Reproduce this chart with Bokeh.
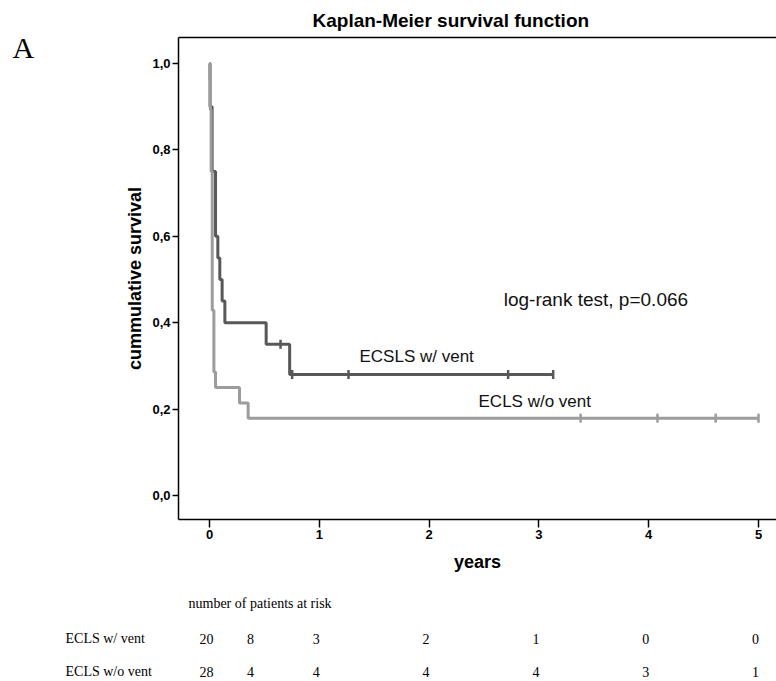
from bokeh.plotting import figure
from bokeh.layouts import column, row
from bokeh.models import Range1d, FixedTicker, LinearAxis, Label, LabelSet, ColumnDataSource
from bokeh.embed import file_html
from bokeh.resources import INLINE
import numpy as np

# ---------------- data ----------------
title_text = "Kaplan-Meier survival function"
panel_letter = "A"
x_label = "years"
y_label = "cummulative survival"
stat_text = "log-rank test, p=0.066"

# ECLS with ventilation (n=20)
vent_name = "ECSLS w/ vent"
vent_times = [0.0, 0.005, 0.024, 0.055, 0.076, 0.094, 0.115, 0.14, 0.516, 0.73]
vent_surv = [1.0, 0.90, 0.75, 0.60, 0.55, 0.50, 0.45, 0.40, 0.35, 0.28]
vent_end = 3.13
vent_censor_t = [0.647, 0.753, 1.266, 2.72, 3.13]
vent_censor_s = [0.35, 0.28, 0.28, 0.28, 0.28]

# ECLS without ventilation (n=28)
novent_name = "ECLS w/o vent"
novent_times = [0.0, 0.003, 0.008, 0.015, 0.025, 0.04, 0.055, 0.273, 0.352]
novent_surv = [1.0, 0.964, 0.893, 0.75, 0.429, 0.286, 0.25, 0.214, 0.179]
novent_end = 5.0
novent_censor_t = [3.38, 4.08, 4.61, 5.0]
novent_censor_s = [0.179, 0.179, 0.179, 0.179]

x_ticks = [0, 1, 2, 3, 4, 5]
y_ticks = [0.0, 0.2, 0.4, 0.6, 0.8, 1.0]
y_tick_labels = ["0,0", "0,2", "0,4", "0,6", "0,8", "1,0"]

risk_header = "number of patients at risk"
risk_row_names = ["ECLS w/ vent", "ECLS w/o vent"]
risk_times = [0, 0.4, 1, 2, 3, 4, 5]
risk_vent = [20, 8, 3, 2, 1, 0, 0]
risk_novent = [28, 4, 4, 4, 4, 3, 1]

# ---------------- styling ----------------
DARK = "#585858"
LIGHT = "#9c9c9c"
SANS = "Liberation Sans"
SERIF = "Liberation Serif"
X0, X1 = -0.2823, 5.1639      # main frame x range (years)
PX_PER_YEAR = 109.8


def blank(fig):
    fig.outline_line_color = None
    fig.background_fill_color = "white"
    fig.border_fill_color = "white"
    fig.grid.visible = False


# ---------------- panel letter ----------------
pa = figure(width=40, height=580, output_backend="svg", toolbar_location=None,
            x_axis_location=None, y_axis_location=None, min_border=0,
            x_range=Range1d(0, 1), y_range=Range1d(0, 1))
blank(pa)
pa.add_layout(Label(x=12, y=472, x_units="screen", y_units="screen", text=panel_letter,
                    text_font=SERIF, text_font_size="30px", text_baseline="middle",
                    text_color="black"))

# ---------------- main KM plot ----------------
p = figure(width=736, height=580, output_backend="svg", toolbar_location=None,
           x_range=Range1d(X0, X1), y_range=Range1d(-0.0556, 1.0602),
           min_border_left=138, min_border_right=0, min_border_top=37,
           min_border_bottom=61, title=title_text)
blank(p)

p.title.text_font = SANS
p.title.text_font_size = "19px"
p.title.text_font_style = "bold"
p.title.text_color = "black"
p.title.align = "left"
p.title.offset = 134
p.title.standoff = 13

xa = p.xaxis[0]
xa.ticker = FixedTicker(ticks=x_ticks)
ya = p.yaxis[0]
ya.ticker = FixedTicker(ticks=y_ticks)
ya.major_label_overrides = {t: l for t, l in zip(y_ticks, y_tick_labels)}
for ax in (xa, ya):
    ax.minor_tick_line_color = None
    ax.major_tick_in = 0
    ax.axis_line_width = 1.5
    ax.major_tick_line_width = 1.5
    ax.axis_line_color = "black"
    ax.major_tick_line_color = "black"
    ax.major_label_text_font = SANS
    ax.major_label_text_font_style = "bold"
    ax.major_label_text_font_size = "13px"
    ax.major_label_text_color = "black"
    ax.axis_label_text_font = SANS
    ax.axis_label_text_font_style = "bold"
    ax.axis_label_text_font_size = "18px"
    ax.axis_label_text_color = "black"
xa.major_tick_out = 8
xa.major_label_standoff = 2
xa.axis_label = x_label
xa.axis_label_standoff = 10
ya.major_tick_out = 6
ya.major_label_standoff = 2
ya.axis_label = y_label
ya.axis_label_standoff = 4

top = LinearAxis(ticker=FixedTicker(ticks=[]), major_label_text_font_size="0px",
                 major_tick_out=0, major_tick_in=0, major_label_standoff=0,
                 minor_tick_line_color=None, axis_line_width=1.5, axis_line_color="black")
p.add_layout(top, "above")

# curves (dark first so the light curve sits on top at the shared start)
vx = vent_times + [vent_end]
vy = vent_surv + [vent_surv[-1]]
p.step(vx, vy, mode="after", line_color=DARK, line_width=3)
p.scatter(vent_censor_t, vent_censor_s, marker="dash", angle=np.pi / 2, size=9,
          line_color=DARK, line_width=2.5)

nx = novent_times + [novent_end]
ny = novent_surv + [novent_surv[-1]]
p.step(nx, ny, mode="after", line_color=LIGHT, line_width=3)
p.scatter(novent_censor_t, novent_censor_s, marker="dash", angle=np.pi / 2, size=9,
          line_color=LIGHT, line_width=2.5)

p.add_layout(Label(x=1.366, y=0.322, text=vent_name, text_font=SANS, text_font_size="17px",
                   text_baseline="middle", text_color="#111111"))
p.add_layout(Label(x=2.45, y=0.218, text=novent_name, text_font=SANS, text_font_size="17px",
                   text_baseline="middle", text_color="#111111"))
p.add_layout(Label(x=2.68, y=0.454, text=stat_text, text_font=SANS, text_font_size="19px",
                   text_baseline="middle", text_color="#111111"))

# ---------------- risk table ----------------
TX0 = X0 - 178 / PX_PER_YEAR
pt = figure(width=776, height=101, output_backend="svg", toolbar_location=None,
            x_axis_location=None, y_axis_location=None, min_border=0,
            x_range=Range1d(TX0, X1), y_range=Range1d(0, 1))
blank(pt)
pt.add_layout(Label(x=188, y=78, x_units="screen", y_units="screen", text=risk_header,
                    text_font=SERIF, text_font_size="14px", text_baseline="middle",
                    text_color="black"))
row_y = [43, 10]
for name, yy in zip(risk_row_names, row_y):
    pt.add_layout(Label(x=65, y=yy, x_units="screen", y_units="screen", text=name,
                        text_font=SERIF, text_font_size="14px", text_baseline="middle",
                        text_color="black"))
for counts, yy in zip([risk_vent, risk_novent], row_y):
    src = ColumnDataSource(dict(x=risk_times, y=[yy] * len(risk_times),
                                t=[str(c) for c in counts]))
    pt.add_layout(LabelSet(x="x", y="y", text="t", source=src, x_units="data",
                           y_units="screen", x_offset=-3, text_font=SERIF,
                           text_font_size="14px", text_align="center",
                           text_baseline="middle", text_color="black"))

layout = column(row(pa, p, spacing=0), pt, spacing=0)
open("out.html", "w").write(file_html(layout, INLINE))
